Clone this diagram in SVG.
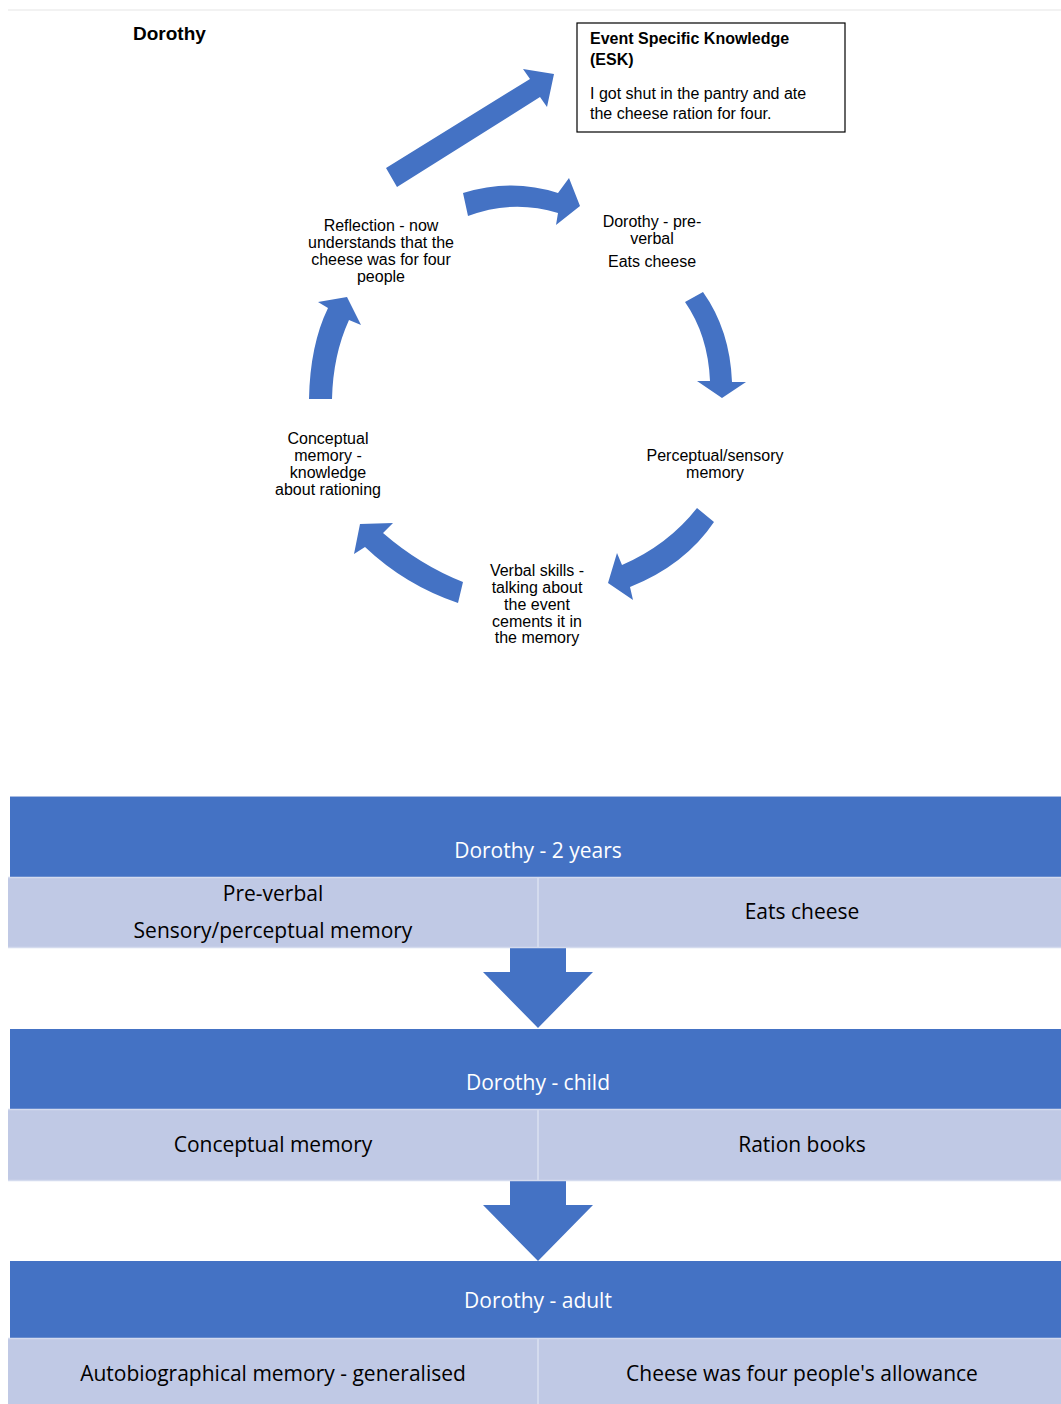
<svg xmlns="http://www.w3.org/2000/svg" width="1061" height="1404" viewBox="0 0 1061 1404">
<style>
.t{font-family:"Liberation Sans",Arial,sans-serif;font-size:16px;fill:#000}
.c{text-anchor:middle}
.b{font-weight:bold}
.arr{fill:#4472C4}
.band{fill:#4472C4}
.row{fill:#C0C9E5}
.h{font-family:"Open Sans","Liberation Sans",Arial,sans-serif;font-size:21px;fill:#fff;text-anchor:middle}
.r{font-family:"Open Sans","Liberation Sans",Arial,sans-serif;font-size:21px;fill:#000;text-anchor:middle}
</style>
<rect width="1061" height="1404" fill="#fff"/>
<line x1="8" y1="10" x2="1061" y2="10" stroke="#eeeeee" stroke-width="1.5"/>
<g id="title"><text class="t b" x="133" y="40" style="font-size:19px">Dorothy</text></g>
<g id="esk">
<rect x="577" y="23" width="268" height="109" fill="#fff" stroke="#000" stroke-width="1.2"/>
<text class="t b" x="590" y="44">Event Specific Knowledge</text>
<text class="t b" x="590" y="65">(ESK)</text>
<text class="t" x="590" y="99">I got shut in the pantry and ate</text>
<text class="t" x="590" y="119">the cheese ration for four.</text>
</g>
<g id="reflection"><text class="t c" x="381" y="231">Reflection - now</text><text class="t c" x="381" y="248">understands that the</text><text class="t c" x="381" y="265">cheese was for four</text><text class="t c" x="381" y="282">people</text></g>
<g id="preverbal"><text class="t c" x="652" y="227">Dorothy - pre-</text><text class="t c" x="652" y="244">verbal</text><text class="t c" x="652" y="267">Eats cheese</text></g>
<g id="perceptual"><text class="t c" x="715" y="461">Perceptual/sensory</text><text class="t c" x="715" y="478">memory</text></g>
<g id="verbal"><text class="t c" x="537" y="576">Verbal skills -</text><text class="t c" x="537" y="593">talking about</text><text class="t c" x="537" y="610">the event</text><text class="t c" x="537" y="627">cements it in</text><text class="t c" x="537" y="643">the memory</text></g>
<g id="conceptual"><text class="t c" x="328" y="444">Conceptual</text><text class="t c" x="328" y="461">memory -</text><text class="t c" x="328" y="478">knowledge</text><text class="t c" x="328" y="495">about rationing</text></g>
<g id="connectors">
<polygon class="arr" points="386,168 530,79 523,69 554,74 547,107 540,97 397,187"/>
<path class="arr" d="M463,193 Q512,178 558,193 L569,178 L580,206 L556,225 L558,213 Q513,199 468,216 Z"/>
<path class="arr" d="M685,302 Q708,335 710,381 L697,381 L722,398 L746,382 L732,382 Q730,330 703,292 Z"/>
<path class="arr" d="M697,508 Q668,545 622,565 L617,553 L608,583 L633,600 L630,587 Q685,565 714,522 Z"/>
<path class="arr" d="M463,582 Q420,565 383,533 L393,523 L360,524 L354,554 L365,547 Q405,585 458,603 Z"/>
<path class="arr" d="M309,399 Q310,345 328,308 L318,302 L347,297 L361,325 L349,320 Q333,355 332,399 Z"/>
<polygon class="arr" points="510,948 566,948 566,972 593,972 538,1028 483,972 510,972"/>
<polygon class="arr" points="510,1181 566,1181 566,1205 593,1205 538,1261 483,1205 510,1205"/>
</g>
<g id="stage1">
<rect class="band" x="10" y="796" width="1051" height="81"/>
<line x1="10" y1="796.5" x2="1061" y2="796.5" stroke="#A9BCE3" stroke-width="1"/>
<text class="h" x="538" y="858">Dorothy - 2 years</text>
<rect class="row" x="8" y="877" width="1053" height="71"/>
<line x1="8" y1="877.5" x2="1061" y2="877.5" stroke="#D4DBEE" stroke-width="1.5"/>
<line x1="538" y1="877" x2="538" y2="948" stroke="#D4DBEE" stroke-width="2"/>
<line x1="8" y1="947.5" x2="1061" y2="947.5" stroke="#D4DBEE" stroke-width="1.5"/>
<text class="r" x="273" y="901">Pre-verbal</text>
<text class="r" x="273" y="938">Sensory/perceptual memory</text>
<text class="r" x="802" y="919">Eats cheese</text>
</g>
<g id="stage2">
<rect class="band" x="10" y="1029" width="1051" height="80"/>
<text class="h" x="538" y="1090">Dorothy - child</text>
<rect class="row" x="8" y="1109" width="1053" height="72"/>
<line x1="8" y1="1109.5" x2="1061" y2="1109.5" stroke="#D4DBEE" stroke-width="1.5"/>
<line x1="538" y1="1109" x2="538" y2="1181" stroke="#D4DBEE" stroke-width="2"/>
<line x1="8" y1="1180.5" x2="1061" y2="1180.5" stroke="#D4DBEE" stroke-width="1.5"/>
<text class="r" x="273" y="1152">Conceptual memory</text>
<text class="r" x="802" y="1152">Ration books</text>
</g>
<g id="stage3">
<rect class="band" x="10" y="1261" width="1051" height="77"/>
<text class="h" x="538" y="1308">Dorothy - adult</text>
<rect class="row" x="8" y="1338" width="1053" height="66"/>
<line x1="8" y1="1338.5" x2="1061" y2="1338.5" stroke="#D4DBEE" stroke-width="1.5"/>
<line x1="538" y1="1338" x2="538" y2="1404" stroke="#D4DBEE" stroke-width="2"/>
<text class="r" x="273" y="1381">Autobiographical memory - generalised</text>
<text class="r" x="802" y="1381">Cheese was four people's allowance</text>
</g>
</svg>
